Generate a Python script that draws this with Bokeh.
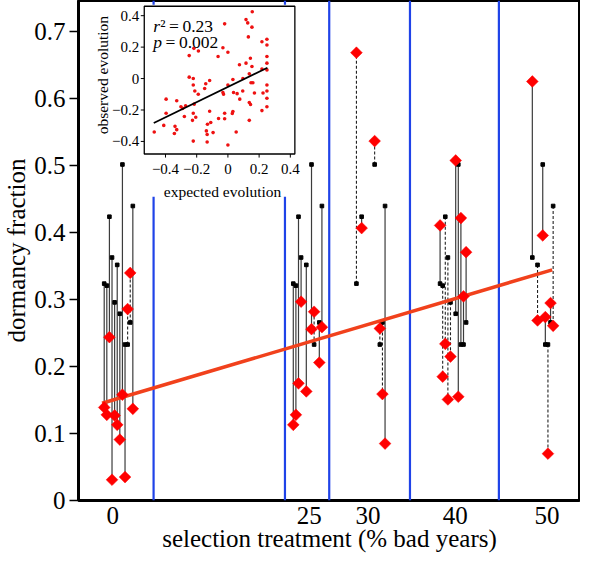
import math
from bokeh.plotting import figure
from bokeh.models import Range1d, FixedTicker
from bokeh.core.properties import value
from bokeh.embed import file_html
from bokeh.resources import INLINE

# ---------------- data ----------------
treatment_labels = ["0", "25", "30", "40", "50"]

# dormancy fraction of the 12 founder lines (black squares)
founder_dormancy = [0.324, 0.321, 0.424, 0.363, 0.296, 0.352,
                    0.279, 0.502, 0.233, 0.233, 0.266, 0.440]

# evolved dormancy per treatment: founder slot, evolved value, dashed connector flag
t0_slots = [0, 1, 2, 3, 4, 5, 6, 7, 8, 9, 10, 11]
t0_evolved = [0.139, 0.128, 0.244, 0.031, 0.127, 0.113, 0.091, 0.158, 0.035, 0.286, 0.340, 0.137]
t0_dashed = [0, 0, 0, 0, 0, 0, 0, 0, 0, 1, 1, 0]

t25_slots = [0, 1, 2, 3, 5, 7, 8, 10, 11]
t25_evolved = [0.113, 0.128, 0.175, 0.297, 0.163, 0.256, 0.282, 0.206, 0.259]
t25_dashed = [0, 0, 0, 0, 0, 0, 1, 0, 0]

t30_slots = [0, 2, 7, 9, 10, 11]
t30_evolved = [0.669, 0.407, 0.537, 0.257, 0.159, 0.085]
t30_dashed = [1, 0, 1, 1, 1, 0]

t40_slots = [0, 1, 2, 3, 4, 6, 7, 8, 9, 10]
t40_evolved = [0.411, 0.185, 0.234, 0.151, 0.215, 0.508, 0.155, 0.422, 0.305, 0.371]
t40_dashed = [0, 1, 1, 1, 1, 0, 0, 0, 0, 0]

t50_slots = [3, 5, 7, 8, 9, 10, 11]
t50_evolved = [0.626, 0.269, 0.396, 0.274, 0.070, 0.295, 0.261]
t50_dashed = [0, 1, 0, 0, 1, 0, 1]

# regression of evolved dormancy on treatment (end points of fitted line)
fit_x = [-1.35, 55.9]
fit_y = [0.1453, 0.3446]

y_ticks = [0.0, 0.1, 0.2, 0.3, 0.4, 0.5, 0.6, 0.7]
y_tick_labels = ["0", "0.1", "0.2", "0.3", "0.4", "0.5", "0.6", "0.7"]

# inset: expected vs observed evolution
inset_expected = [0.156, 0.116, 0.127, 0.154, -0.021, 0.131, 0.218, 0.25, 0.25, -0.032,
                  0.0, -0.218, -0.189, -0.248, -0.063, 0.25, 0.144, 0.074, 0.116, 0.154,
                  0.25, 0.218, 0.25, 0.137, 0.096, 0.032, 0.148, 0.16, 0.25, 0.25,
                  -0.248, -0.222, -0.117, -0.222, -0.142, -0.212, -0.149, -0.032, -0.028, 0.036,
                  0.059, 0.095, 0.17, 0.225, 0.0, 0.076, 0.137, 0.145, 0.25, 0.25,
                  0.218, -0.396, -0.328, -0.301, -0.271, -0.29, -0.216, -0.117, -0.06, -0.021,
                  -0.021, 0.032, 0.028, -0.396, -0.222, -0.206, -0.227, -0.279, -0.131, 0.137,
                  -0.19, -0.411, -0.339, -0.328, -0.343, -0.472, -0.138, -0.133, -0.095, 0.053,
                  -0.222, -0.133, 0.0, -0.11]
inset_observed = [0.425, 0.375, 0.354, 0.327, 0.348, 0.265, 0.234, 0.25, 0.213, 0.196,
                  0.167, 0.192, 0.175, 0.146, 0.14, 0.14, 0.129, 0.088, 0.098, 0.077,
                  0.098, 0.06, 0.055, 0.03, 0.0, -0.006, -0.027, -0.027, -0.041, -0.079,
                  0.009, 0.0, -0.012, -0.041, -0.033, -0.079, -0.063, -0.089, -0.1, -0.089,
                  -0.096, -0.079, -0.092, -0.092, -0.041, -0.131, -0.152, -0.165, -0.125, -0.179,
                  -0.204, -0.131, -0.141, -0.179, -0.173, -0.19, -0.163, -0.208, -0.254, -0.256,
                  -0.221, -0.21, -0.222, -0.221, -0.221, -0.246, -0.266, -0.241, -0.291, -0.266,
                  -0.1, -0.298, -0.304, -0.325, -0.35, -0.34, -0.333, -0.356, -0.344, -0.34,
                  -0.398, -0.404, -0.423, -0.28]
inset_fit_x = [-0.475, 0.253]
inset_fit_y = [-0.283, 0.069]
inset_ticks = [-0.4, -0.2, 0.0, 0.2, 0.4]
inset_tick_labels = ["\u22120.4", "\u22120.2", "0", "0.2", "0.4"]
r2_value = "0.23"
p_value = "0.002"

# ---------------- layout ----------------
tick_pos = [0.0, 25.0, 32.46, 43.58, 55.25]
slot_base = [-1.08, 22.97, 31.0, 41.64, 52.38]
slot_step = 0.331
divider_pos = [5.20, 21.91, 27.54, 37.81, 49.12]
X_START, X_END = -4.35, 59.5
Y_START, Y_END = 0.0, 0.747
FW, FH = 507.0, 491.0

FONT = "Liberation Serif"

groups = [
    (t0_slots, t0_evolved, t0_dashed),
    (t25_slots, t25_evolved, t25_dashed),
    (t30_slots, t30_evolved, t30_dashed),
    (t40_slots, t40_evolved, t40_dashed),
    (t50_slots, t50_evolved, t50_dashed),
]

sol = dict(x=[], y0=[], y1=[])
das = dict(x=[], y0=[], y1=[])
sq_x, sq_y, dm_x, dm_y = [], [], [], []
for gi, (slots, evolved, dashed) in enumerate(groups):
    for s, ev, d in zip(slots, evolved, dashed):
        x = slot_base[gi] + s * slot_step
        tgt = das if d else sol
        tgt["x"].append(x)
        tgt["y0"].append(founder_dormancy[s])
        tgt["y1"].append(ev)
        sq_x.append(x)
        sq_y.append(founder_dormancy[s])
        dm_x.append(x)
        dm_y.append(ev)

p = figure(width=580, height=554,
           x_range=Range1d(X_START, X_END), y_range=Range1d(Y_START, Y_END),
           output_backend="svg", toolbar_location=None,
           min_border_left=73, min_border_right=0, min_border_top=0, min_border_bottom=0)
p.grid.visible = False
p.outline_line_color = "black"
p.outline_line_width = 3
p.outline_line_alpha = 1.0
p.background_fill_color = "white"
p.border_fill_color = "white"

# axes
p.yaxis.ticker = FixedTicker(ticks=y_ticks)
p.yaxis.major_label_overrides = {t: l for t, l in zip(y_ticks, y_tick_labels)}
p.xaxis.ticker = FixedTicker(ticks=tick_pos)
p.xaxis.major_label_overrides = {t: l for t, l in zip(tick_pos, treatment_labels)}
for ax in (p.xaxis[0], p.yaxis[0]):
    ax.axis_line_color = None
    ax.minor_tick_line_color = None
    ax.major_tick_in = 0
    ax.major_label_text_font = FONT
    ax.major_label_text_font_size = "25px"
    ax.major_label_text_color = "black"
    ax.axis_label_text_font = FONT
    ax.axis_label_text_font_size = "25px"
    ax.axis_label_text_font_style = "normal"
    ax.axis_label_text_color = "black"
p.yaxis.major_tick_out = 9
p.yaxis.major_tick_line_width = 1.3
p.yaxis.major_tick_line_color = "black"
p.yaxis.major_label_standoff = 4
p.yaxis.axis_label_standoff = 1
p.yaxis.axis_label = "dormancy fraction"
p.xaxis.major_tick_out = 0
p.xaxis.major_tick_line_color = None
p.xaxis.major_label_standoff = 6
p.xaxis.axis_label_standoff = -2
p.xaxis.axis_label = "selection treatment (% bad years)"

# blue dividers
p.segment(x0=divider_pos, y0=[Y_START] * len(divider_pos), x1=divider_pos,
          y1=[Y_END] * len(divider_pos), line_color="#1f43e8", line_width=2.2)

# connectors
p.segment(x0="x", y0="y0", x1="x", y1="y1", source=sol, line_color="#3c3c3c", line_width=1.2)
p.segment(x0="x", y0="y0", x1="x", y1="y1", source=das, line_color="#222222",
          line_width=1.1, line_dash="3 2")
p.scatter(sq_x, sq_y, marker="square", size=3.6, fill_color="black", line_color="black")

# regression line
p.line(fit_x, fit_y, line_color="#f1411c", line_width=3.5)

# evolved values (red diamonds)
p.scatter(dm_x, dm_y, marker="square", angle=math.pi / 4, size=8.3,
          fill_color="#ff0000", line_color="#ff0000", line_width=0.5)

# ---------------- inset ----------------
fl, fr, ft, fb = 0.131, 0.431, 0.0115, 0.307
xl, xr, yb, yt = -0.536, 0.429, -0.48, 0.46
sx = (xr - xl) / (fr - fl)
ix0 = xl - fl * sx
sy = (yt - yb) / (fb - ft)
iy1 = yt + ft * sy
p.extra_x_ranges = {"ix": Range1d(ix0, ix0 + sx)}
p.extra_y_ranges = {"iy": Range1d(iy1 - sy, iy1)}
ux = (xr - xl) / ((fr - fl) * FW)   # inset units per pixel (x)
uy = (yt - yb) / ((fb - ft) * FH)   # inset units per pixel (y)
R = dict(x_range_name="ix", y_range_name="iy")

p.quad(left=[xl - 6.5 * ux], right=[xr + 3 * ux], bottom=[yb - 42 * uy], top=[yt + 1.5 * uy],
       fill_color="white", line_color=None, **R)
p.quad(left=[xl], right=[xr], bottom=[yb], top=[yt], fill_color=None,
       line_color="black", line_width=1.3, **R)
p.scatter(inset_expected, inset_observed, marker="circle", size=3.6,
          fill_color="#ee1111", line_color=None, **R)
p.line(inset_fit_x, inset_fit_y, line_color="black", line_width=1.8, **R)

# inset ticks
n = len(inset_ticks)
p.segment(x0=inset_ticks, y0=[yb] * n, x1=inset_ticks, y1=[yb - 3.5 * uy] * n,
          line_color="black", line_width=1, **R)
p.segment(x0=[xl] * n, y0=inset_ticks, x1=[xl - 3.5 * ux] * n, y1=inset_ticks,
          line_color="black", line_width=1, **R)
tf = value(FONT)
p.text(x=inset_ticks, y=[yb] * n, text=inset_tick_labels, y_offset=15,
       text_align="center", text_baseline="middle", text_font=tf,
       text_font_size="15px", text_color="black", **R)
p.text(x=[xl] * n, y=inset_ticks, text=inset_tick_labels, x_offset=-5,
       text_align="right", text_baseline="middle", text_font=tf,
       text_font_size="15px", text_color="black", **R)
p.text(x=[(xl + xr) / 2], y=[yb], text=["expected evolution"], x_offset=3, y_offset=37,
       text_align="center", text_baseline="middle", text_font=tf,
       text_font_size="15.5px", text_color="black", **R)
p.text(x=[xl], y=[(yb + yt) / 2], text=["observed evolution"], x_offset=-42, y_offset=-5,
       angle=math.pi / 2, text_align="center", text_baseline="middle", text_font=tf,
       text_font_size="15.5px", text_color="black", **R)

# statistics
p.text(x=[xl], y=[yt], text=["r"], x_offset=9, y_offset=19.5, text_align="left",
       text_baseline="alphabetic", text_font=tf, text_font_style="italic",
       text_font_size="17.5px", text_color="black", **R)
p.text(x=[xl], y=[yt], text=["\u00b2\u2009=\u2009" + r2_value], x_offset=16, y_offset=19.5,
       text_align="left", text_baseline="alphabetic", text_font=tf,
       text_font_size="17.5px", text_color="black", **R)
p.text(x=[xl], y=[yt], text=["p"], x_offset=9, y_offset=36, text_align="left",
       text_baseline="alphabetic", text_font=tf, text_font_style="italic",
       text_font_size="17.5px", text_color="black", **R)
p.text(x=[xl], y=[yt], text=["\u2009=\u2009" + p_value], x_offset=17.8, y_offset=36,
       text_align="left", text_baseline="alphabetic", text_font=tf,
       text_font_size="17.5px", text_color="black", **R)

open("out.html", "w").write(file_html(p, INLINE))
